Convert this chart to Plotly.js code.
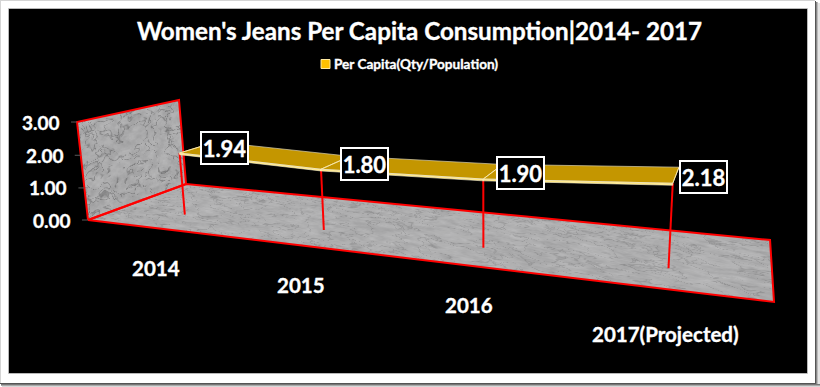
<!DOCTYPE html>
<html>
<head>
<meta charset="utf-8">
<script src="https://cdn.plot.ly/plotly-3.0.1.min.js"></script>
<style>html,body{margin:0;padding:0;background:#fff;overflow:hidden}#chart{width:820px;height:387px}text{font-variant-ligatures:none}
.annotation-text,.gtitle{stroke:#fff;stroke-width:0.35px}</style>
</head>
<body>
<div id="chart"></div>
<script>
// ---- data ----
const years = ['2014', '2015', '2016', '2017(Projected)'];
const perCapita = [1.94, 1.80, 1.90, 2.18];
const valueTicks = [0, 1, 2, 3];
const seriesName = 'Per Capita(Qty/Population)';
const chartTitle = "Women's Jeans Per Capita Consumption|2014- 2017";

// ---- 3D view: a perspective camera for the category/depth/value box ----
const zMax = 3;
const cam = [
  [482.3, 130.2, -13.0, 88],
  [2.5, -4.2, -101.2, 220],
  [-0.2632, 0.1729, -0.0265, 1]
];
function project(u, v, value) {
  const z = value / zMax;
  const h = cam.map(r => r[0] * u + r[1] * v + r[2] * z + r[3]);
  return [h[0] / h[2], h[1] / h[2]];
}
const uOf = i => (i + 0.5) / years.length;
const vFront = 0.31, vBack = 0.7, ribbonThick = 0.05;
const RED = '#ff0000', GOLD = '#c49600', PALE = '#ffe680', KEY = '#ffc000';

function poly(pts, name, fill, lineColor, lineWidth, extra) {
  return Object.assign({
    x: pts.map(p => p[0]), y: pts.map(p => p[1]), mode: 'lines', name: name,
    fill: fill ? 'toself' : 'none', fillcolor: fill || undefined,
    line: {color: lineColor, width: lineWidth}, showlegend: false, hoverinfo: 'skip'
  }, extra || {});
}

const traces = [];
// floor and back wall
const floorPts = [[0,0],[1,0],[1,1],[0,1],[0,0]].map(p => project(p[0], p[1], 0));
const wallPts = [[0,0],[1,0],[1,zMax],[0,zMax],[0,0]].map(p => project(0, p[0], p[1]));
traces.push(poly(floorPts, 'floor', 'rgba(170,170,170,0.05)', RED, 2));
traces.push(poly(wallPts, 'wall', 'rgba(170,170,170,0.05)', RED, 2));
// value axis ticks
valueTicks.forEach(t => {
  const p = project(0, 0, t);
  traces.push(poly([[p[0] - 6, p[1]], p], 'tick', null, '#595959', 1));
});
// drop lines
perCapita.forEach((val, i) => {
  traces.push(poly([project(uOf(i), vFront, val), project(uOf(i), vFront, 0)], 'drop', null, RED, 2));
});
// ribbon
for (let i = 0; i < years.length - 1; i++) {
  const a = uOf(i), b = uOf(i + 1), va = perCapita[i], vb = perCapita[i + 1];
  traces.push(poly([project(a,vFront,va), project(b,vFront,vb), project(b,vBack,vb), project(a,vBack,va), project(a,vFront,va)],
    'ribbon', GOLD, '#d8d0b0', 0.7));
  traces.push(poly([project(a,vFront,va), project(b,vFront,vb), project(b,vFront,vb-ribbonThick), project(a,vFront,va-ribbonThick), project(a,vFront,va)],
    'ribbon edge', PALE, '#fff8d8', 0.6));
}
perCapita.forEach((val, i) => {
  traces.push(poly([project(uOf(i),vFront,val), project(uOf(i),vBack,val)], 'ridge', null, '#ffe9a0', 1));
});
// series key
const FONT = 'Lato, "Open Sans", sans-serif';
const keyX = 325.5, keyY = 64;
traces.push({x:[keyX], y:[keyY], mode:'markers', name:seriesName, showlegend:false, hoverinfo:'skip',
  marker:{symbol:'square', size:9, color:KEY, line:{color:'#ffe9a0', width:1}}});

// ---- text ----
const annotations = [
  {x:keyX, y:keyY, xref:'x', yref:'y', text:seriesName, showarrow:false, xanchor:'left', yanchor:'middle', xshift:6,
   font:{family:FONT, size:13.6, color:'#fff', weight:700}}
];
valueTicks.forEach(t => {
  const p = project(0, 0, t);
  annotations.push({x:p[0], y:p[1], xref:'x', yref:'y', text:t.toFixed(2), showarrow:false,
    xanchor:'right', yanchor:'middle', xshift:-15, font:{family:FONT, size:19, color:'#fff', weight:700}});
});
const catDrop = [40, 40, 40, 45];
years.forEach((c, i) => {
  const p = project(uOf(i), 0, 0);
  annotations.push({x:p[0], y:p[1], xref:'x', yref:'y', text:c, showarrow:false, xshift:3, yshift:-catDrop[i],
    font:{family:FONT, size:20.5, color:'#fff', weight:700}});
});
const labelDx = [45, 43, 37, 31], labelDy = [-5, -5.5, -6, -6.5];
perCapita.forEach((val, i) => {
  const p = project(uOf(i), vFront, val);
  annotations.push({x:p[0], y:p[1], xref:'x', yref:'y', text:val.toFixed(2), showarrow:false,
    xshift:labelDx[i], yshift:-labelDy[i], bgcolor:'#000', bordercolor:'#fff', borderwidth:2, borderpad:0,
    width:45, height:30, font:{family:FONT, size:22, color:'#fff', weight:700}});
});

// ---- marble texture, painted in the plane of floor and wall ----
const PX0 = 9, PY0 = 9, PW = 798, PH = 364;
function hash(i, j) { const s = Math.sin(i * 127.1 + j * 311.7) * 43758.5453; return s - Math.floor(s); }
function vnoise(x, y) {
  const i = Math.floor(x), j = Math.floor(y), f = x - i, g = y - j;
  const a = f * f * (3 - 2 * f), b = g * g * (3 - 2 * g);
  const h00 = hash(i, j), h10 = hash(i + 1, j), h01 = hash(i, j + 1), h11 = hash(i + 1, j + 1);
  return (h00 * (1 - a) + h10 * a) * (1 - b) + (h01 * (1 - a) + h11 * a) * b;
}
function fbm(x, y) { return 0.5 * vnoise(x, y) + 0.3 * vnoise(2.1 * x, 2.1 * y) + 0.2 * vnoise(4.3 * x, 4.3 * y); }
function marble(s, t, veinDepth) {
  const w1 = fbm(s * 0.6 + 7, t * 0.6), w2 = fbm(s * 0.6, t * 0.6 + 11);
  const n = fbm(s + 2 * w1, t + 2 * w2);
  const v = Math.pow(Math.max(0, 1 - Math.abs(2 * n - 1) * 9), 1.5);
  const n2 = fbm(s * 1.7 + 31, t * 1.7 + 5);
  return 176 + 34 * (n2 - 0.5) - veinDepth * v;
}
function inv3(m) {
  const [a,b,c] = m[0], [d,e,f] = m[1], [g,h,i] = m[2];
  const A = e*i-f*h, B = -(d*i-f*g), C = d*h-e*g, det = a*A + b*B + c*C;
  return [[A,-(b*i-c*h),b*f-c*e],[B,a*i-c*g,-(a*f-c*d)],[C,-(a*h-b*g),a*e-b*d]].map(r => r.map(x => x / det));
}
function texture() {
  const cv = document.createElement('canvas'); cv.width = PW; cv.height = PH;
  const ctx = cv.getContext('2d'), img = ctx.createImageData(PW, PH), d = img.data;
  const floorInv = inv3(cam.map(r => [r[0], r[1], r[3]]));
  const wallInv = inv3(cam.map(r => [r[1], r[2], r[3]]));
  for (let py = 0; py < PH; py++) for (let px = 0; px < PW; px++) {
    const X = px + PX0 + 0.5, Y = py + PY0 + 0.5;
    let g = -1;
    let q = floorInv.map(r => r[0] * X + r[1] * Y + r[2]);
    let a = q[0] / q[2], b = q[1] / q[2];
    if (a >= 0 && a <= 1 && b >= 0 && b <= 1) {
      g = marble(a * 30 + b * 6, b * 9 - a * 5, 22) - 2;
    } else {
      q = wallInv.map(r => r[0] * X + r[1] * Y + r[2]);
      a = q[0] / q[2]; b = q[1] / q[2];
      if (a >= 0 && a <= 1 && b >= 0 && b <= 1) g = marble(a * 9, b * 9, 42) - 6;
    }
    if (g >= 0) {
      const k = 4 * (py * PW + px);
      d[k] = g; d[k + 1] = g; d[k + 2] = g + 1; d[k + 3] = 255;
    }
  }
  ctx.putImageData(img, 0, 0);
  return cv.toDataURL('image/png');
}

// ---- page frame ----
const pxX = x => (x - PX0) / PW, pxY = y => (PY0 + PH - y) / PH;
function rect(x0, y0, x1, y1, fill, line) {
  return {type:'rect', xref:'paper', yref:'paper', layer:'below', x0:pxX(x0), x1:pxX(x1), y0:pxY(y0), y1:pxY(y1),
    fillcolor:fill, line:line || {width:0}};
}
const shapes = [
  rect(818, 3, 820, 387, '#e4e4e4'), rect(817, 2, 818, 387, '#bbbbbb'), rect(816, 2, 817, 387, '#888888'), rect(815, 1, 816, 384, '#555555'),
  rect(2, 386, 820, 387, '#d8d8d8'), rect(1, 385, 820, 386, '#aaaaaa'), rect(1, 384, 820, 385, '#777777'), rect(0, 383, 816, 384, '#555555'),
  rect(0, 0, 1, 383, '#d4d4d4'), rect(0, 0, 815, 1, '#d4d4d4'),
  rect(8.5, 8.5, 807.5, 373.5, 'rgba(0,0,0,0)', {color:'#b8b8b8', width:1})
];

const layout = {
  width: 820, height: 387,
  margin: {l: PX0, t: PY0, r: 820 - PX0 - PW, b: 387 - PY0 - PH, pad: 0},
  paper_bgcolor: '#ffffff', plot_bgcolor: '#000000',
  xaxis: {visible: false, range: [PX0, PX0 + PW], fixedrange: true},
  yaxis: {visible: false, range: [PY0 + PH, PY0], fixedrange: true},
  title: {text: chartTitle, font: {family: FONT, size: 24.2, color: '#fff', weight: 700},
    x: 419.5/820, xanchor: 'center', y: 1 - 32/387, yanchor: 'middle'},
  showlegend: false,
  annotations: annotations,
  shapes: shapes,
  images: [{source: texture(), xref: 'paper', yref: 'paper', x: 0, y: 1, sizex: 1, sizey: 1,
    sizing: 'stretch', xanchor: 'left', yanchor: 'top', layer: 'below'}]
};
Plotly.newPlot('chart', traces, layout, {displayModeBar: false, staticPlot: true});
</script>
</body>
</html>
